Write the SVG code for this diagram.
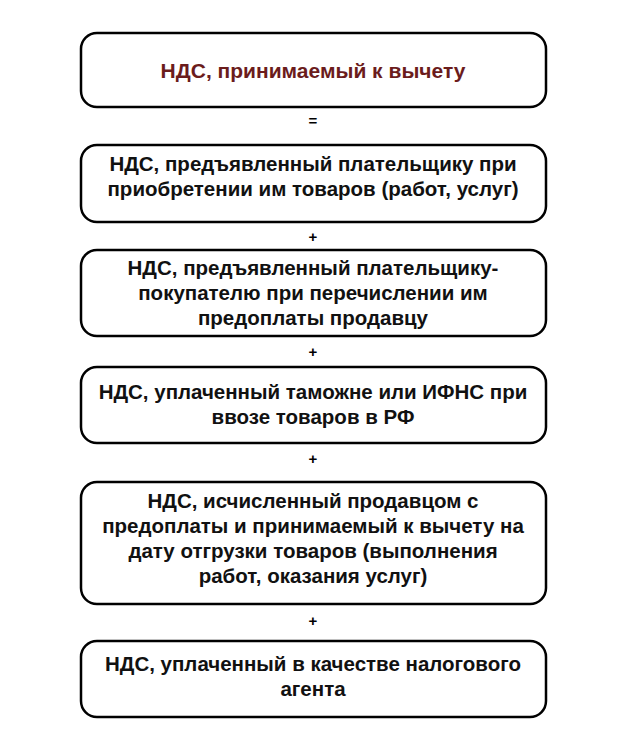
<svg xmlns="http://www.w3.org/2000/svg" width="631" height="751" viewBox="0 0 631 751">
<style>
.b{fill:#fff;stroke:#000;stroke-width:2.5}
.t{font-family:"Liberation Sans",Arial,sans-serif;font-weight:bold;font-size:20.5px;text-anchor:middle;fill:#111}
.r{fill:#6b1c1c;font-size:21px}
.s{font-family:"Liberation Sans",Arial,sans-serif;font-weight:bold;font-size:15px;text-anchor:middle;fill:#000}
</style>
<rect width="631" height="751" fill="#fff"/>
<g id="n1"><rect class="b" x="81" y="33" width="465" height="74" rx="16"/><text class="t r" x="313" y="78">НДС, принимаемый к вычету</text></g>
<g id="n2"><rect class="b" x="81" y="145" width="465" height="77" rx="16"/><text class="t" x="313" y="171">НДС, предъявленный плательщику при</text><text class="t" x="313" y="196">приобретении им товаров (работ, услуг)</text></g>
<g id="n3"><rect class="b" x="81" y="250" width="465" height="86" rx="16"/><text class="t" x="313" y="275">НДС, предъявленный плательщику-</text><text class="t" x="313" y="300">покупателю при перечислении им</text><text class="t" x="313" y="325">предоплаты продавцу</text></g>
<g id="n4"><rect class="b" x="81" y="367" width="465" height="76" rx="16"/><text class="t" x="313" y="399">НДС, уплаченный таможне или ИФНС при</text><text class="t" x="313" y="424">ввозе товаров в РФ</text></g>
<g id="n5"><rect class="b" x="81" y="482" width="465" height="122" rx="16"/><text class="t" x="313" y="508">НДС, исчисленный продавцом с</text><text class="t" x="313" y="533">предоплаты и принимаемый к вычету на</text><text class="t" x="313" y="558">дату отгрузки товаров (выполнения</text><text class="t" x="313" y="583">работ, оказания услуг)</text></g>
<g id="n6"><rect class="b" x="81" y="641" width="465" height="76" rx="16"/><text class="t" x="313" y="671">НДС, уплаченный в качестве налогового</text><text class="t" x="313" y="696">агента</text></g>
<g id="connectors">
<text class="s" x="313" y="126">=</text>
<text class="s" x="313" y="242">+</text>
<text class="s" x="313" y="357">+</text>
<text class="s" x="313" y="464">+</text>
<text class="s" x="313" y="626">+</text>
</g>
</svg>
